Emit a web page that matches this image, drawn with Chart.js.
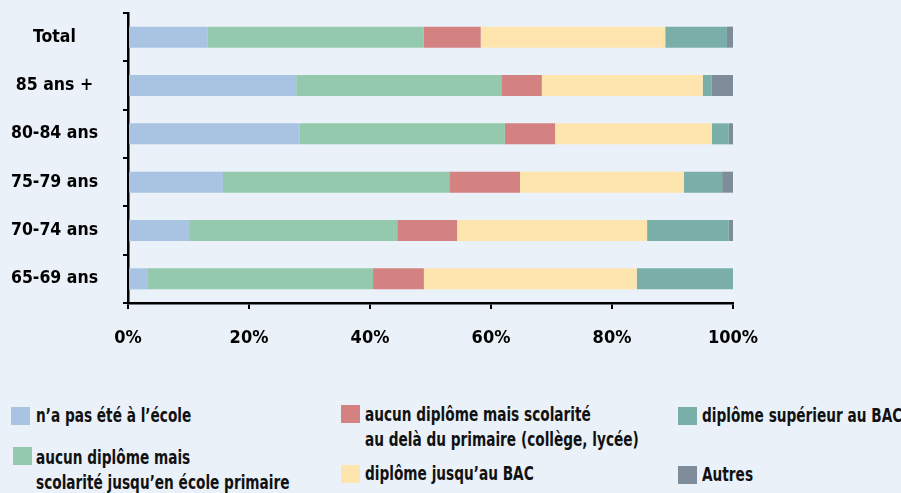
<!DOCTYPE html>
<html lang="fr">
<head>
    <meta charset="UTF-8">
    <title>Niveau de diplôme par âge</title>
    <script src="https://cdn.jsdelivr.net/npm/chart.js"></script>
    <style>
        body{ margin: 0; padding: 0; background: #eaf1f9; font-family: 'DejaVu Sans Condensed', sans-serif; font-weight: 700; color: #111; }
        #wrap{ position: relative; width: 901px; height: 493px; overflow: hidden; }
        #chartBox{ position: absolute; left: 0; top: 0; width: 901px; height: 380px; }
        .leg{ position: absolute; font-size: 20px; line-height: 25px; white-space: nowrap; }
        .leg.txt{ transform: scaleX(0.76); transform-origin: left top; }
        .leg span.sw{ position: absolute; width: 19px; height: 18px; }
    </style>
</head>
<body>
<div id="wrap">
    <div id="chartBox"><canvas id="myChart"></canvas></div>
    <div id="legend"></div>
</div>
<script>
    const categories = ['Total', '85 ans +', '80-84 ans', '75-79 ans', '70-74 ans', '65-69 ans'];
    const seriesNames = [
        "n’a pas été à l’école",
        "aucun diplôme mais<br>scolarité jusqu’en école primaire",
        "aucun diplôme mais scolarité<br>au delà du primaire (collège, lycée)",
        "diplôme jusqu’au BAC",
        "diplôme supérieur au BAC",
        "Autres"
    ];
    const pasEcole     = [13.2, 27.8, 28.4, 15.7, 10.1, 3.3];
    const primaire     = [35.7, 33.9, 33.9, 37.4, 34.4, 37.2];
    const auDela       = [9.4, 6.7, 8.3, 11.7, 9.9, 8.4];
    const jusquBac     = [30.5, 26.6, 25.9, 27.1, 31.4, 35.2];
    const superieurBac = [10.2, 1.5, 2.8, 6.3, 13.5, 15.9];
    const autres       = [1.0, 3.5, 0.7, 1.8, 0.7, 0];
    const xTicks = [0, 20, 40, 60, 80, 100];

    const colors = ['#a9c4e2', '#95c9ae', '#d48181', '#fee5ae', '#7aaea9', '#7f8d9a'];
    const allSeries = [pasEcole, primaire, auDela, jusquBac, superieurBac, autres];

    const datasets = allSeries.map((vals, i) => ({
        label: seriesNames[i].replace('<br>', ' '),
        data: vals,
        backgroundColor: colors[i],
        borderWidth: 0,
        categoryPercentage: 1,
        barPercentage: 0.435
    }));

    const fontFam = "'DejaVu Sans Condensed', sans-serif";

    new Chart(document.getElementById('myChart'), {
        type: 'bar',
        data: { labels: categories, datasets: datasets },
        options: {
            indexAxis: 'y',
            responsive: true,
            maintainAspectRatio: false,
            animation: false,
            layout: { padding: { left: 0, top: 13, right: 168, bottom: 0 } },
            plugins: { legend: { display: false }, tooltip: { enabled: false } },
            scales: {
                x: {
                    stacked: true,
                    min: 0, max: 100,
                    afterBuildTicks: s => { s.ticks = xTicks.map(v => ({ value: v })); },
                    afterFit: s => { s.height = 77; },
                    border: { color: '#000', width: 2.5 },
                    grid: { drawOnChartArea: false, color: '#000', lineWidth: 2, tickLength: 6 },
                    ticks: {
                        color: '#000',
                        padding: 19,
                        font: { family: fontFam, size: 18, weight: 'bold' },
                        callback: v => v + '%'
                    }
                },
                y: {
                    stacked: true,
                    afterFit: s => { s.width = 128; s.paddingTop = 0; s.paddingBottom = 0; },
                    border: { color: '#000', width: 2.5 },
                    grid: { drawOnChartArea: false, color: '#000', lineWidth: 2, tickLength: 5, offset: true },
                    ticks: {
                        color: '#000',
                        padding: 25,
                        crossAlign: 'center',
                        font: { family: fontFam, size: 17.5, weight: 'bold' }
                    }
                }
            }
        }
    });

    // legend built from the series names and colours
    const legPos = [
        { x: 11, y: 407, tx: 36, ty: 403 },
        { x: 13, y: 447, tx: 36, ty: 445 },
        { x: 341, y: 405, tx: 365, ty: 402 },
        { x: 341, y: 465, tx: 365, ty: 461 },
        { x: 678, y: 407, tx: 702, ty: 403 },
        { x: 678, y: 466, tx: 702, ty: 462 }
    ];
    const legend = document.getElementById('legend');
    seriesNames.forEach((name, i) => {
        const p = legPos[i];
        const sw = document.createElement('div');
        sw.className = 'leg';
        sw.style.left = p.x + 'px';
        sw.style.top = p.y + 'px';
        sw.innerHTML = '<span class="sw" style="background:' + colors[i] + '"></span>';
        legend.appendChild(sw);
        const t = document.createElement('div');
        t.className = 'leg txt';
        t.style.left = p.tx + 'px';
        t.style.top = p.ty + 'px';
        t.innerHTML = name;
        legend.appendChild(t);
    });
</script>
</body>
</html>
